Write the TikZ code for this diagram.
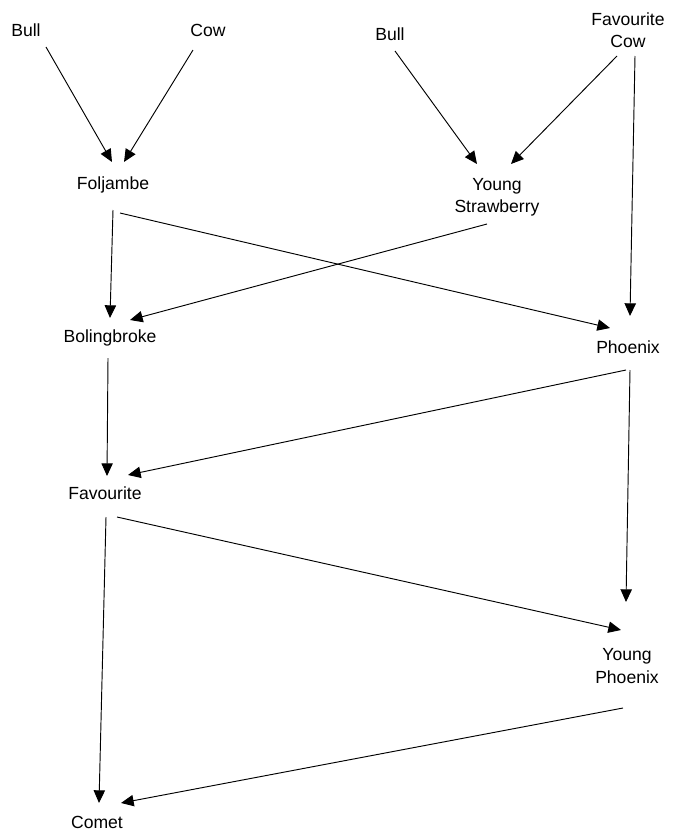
\documentclass[tikz,border=0pt]{standalone}
\usepackage{fontspec}
\setmainfont{Liberation Sans}
\usepackage{tikz}
\usetikzlibrary{arrows.meta}

\tikzset{
    animal/.style={align=center,inner sep=0pt,font=\fontsize{15}{19}\selectfont},
    arc/.style={-{Triangle[length=3.8mm,width=3.4mm]},line width=0.8pt}
}

\begin{document}
\begin{tikzpicture}[x=0.03cm,y=-0.03cm]
        \useasboundingbox (0,0) rectangle (677,832);

        % Animals
        \node[animal] (bullA) at (26, 30) {Bull};
        \node[animal] (cowA) at (208, 30) {Cow};
        \node[animal] (bullB) at (390, 34) {Bull};
        \node[animal] (favcow) at (628, 30) {Favourite\\Cow};
        \node[animal] (fol) at (113, 185) {Foljambe};
        \node[animal] (ys) at (497, 197) {Young\\Strawberry};
        \node[animal] (bol) at (110, 338) {Bolingbroke};
        \node[animal] (phx) at (628, 347) {Phoenix};
        \node[animal] (fav) at (105, 493) {Favourite};
        \node[animal] (yph) at (627, 666) {Young\\Phoenix};
        \node[animal] (comet) at (97, 822) {Comet};

        % Arcs
        \draw[arc] ([shift={(20,17)}]bullA.center) -- ([shift={(-1,-23)}]fol.center);
        \draw[arc] ([shift={(-15,20)}]cowA.center) -- ([shift={(11,-23)}]fol.center);
        \draw[arc] ([shift={(5,17)}]bullB.center) -- ([shift={(-20,-33)}]ys.center);
        \draw[arc] ([shift={(-11,26)}]favcow.center) -- ([shift={(14,-33)}]ys.center);
        \draw[arc] ([shift={(7,26)}]favcow.center) -- ([shift={(2,-31)}]phx.center);
        \draw[arc] ([shift={(0,25)}]fol.center) -- ([shift={(0,-20)}]bol.center);
        \draw[arc] ([shift={(7,28)}]fol.center) -- ([shift={(-18,-19)}]phx.center);
        \draw[arc] ([shift={(-10,27)}]ys.center) -- ([shift={(20,-18)}]bol.center);
        \draw[arc] ([shift={(-2,20)}]bol.center) -- ([shift={(2,-17)}]fav.center);
        \draw[arc] ([shift={(-2,23)}]phx.center) -- ([shift={(23,-18)}]fav.center);
        \draw[arc] ([shift={(2,23)}]phx.center) -- ([shift={(-1,-64)}]yph.center);
        \draw[arc] ([shift={(12,24)}]fav.center) -- ([shift={(-6,-36)}]yph.center);
        \draw[arc] ([shift={(1,24)}]fav.center) -- ([shift={(2,-19)}]comet.center);
        \draw[arc] ([shift={(-4,42)}]yph.center) -- ([shift={(24,-19)}]comet.center);
\end{tikzpicture}
\end{document}
